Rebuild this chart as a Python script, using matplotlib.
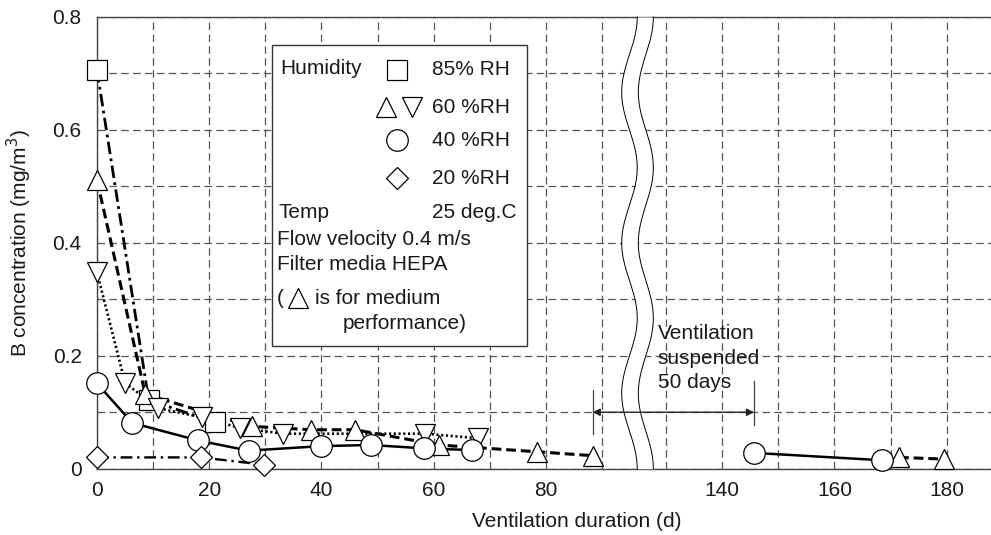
import numpy as np
import matplotlib
matplotlib.use("Agg")
import matplotlib.pyplot as plt
from matplotlib.patches import Rectangle

plt.rcParams['font.family'] = ['Liberation Sans', 'DejaVu Sans']
plt.rcParams['font.size'] = 15

# data (days, mg/m3)
# 85 %RH - square
rh85_x = [0, 9.2, 21.0]
rh85_y = [0.706, 0.122, 0.082]
# 60 %RH HEPA - down triangle
rh60v_x = [0, 5.0, 10.9, 18.7, 25.5, 33.2, 58.4, 67.9]
rh60v_y = [0.348, 0.152, 0.107, 0.091, 0.072, 0.062, 0.062, 0.054]
# 60 %RH medium performance - up triangle
rh60_x = [0, 8.6, 27.6, 38.1, 46.0, 60.9, 78.4, 88.4]
rh60_y = [0.511, 0.132, 0.075, 0.069, 0.069, 0.042, 0.030, 0.023]
rh60_x2 = [171.5, 179.6]
rh60_y2 = [0.020, 0.017]
# 40 %RH - circle
rh40_x = [0, 6.3, 18.0, 27.0, 40.0, 48.8, 58.3, 66.8]
rh40_y = [0.151, 0.081, 0.050, 0.032, 0.040, 0.042, 0.036, 0.033]
rh40_x2 = [145.7, 168.4]
rh40_y2 = [0.028, 0.015]
# 20 %RH - diamond
rh20_x = [0, 18.5, 29.8]
rh20_y = [0.020, 0.020, 0.007]

xticks = [0, 20, 40, 60, 80, 140, 160, 180]
xgrid = [10, 30, 50, 70, 90, 130, 150, 170]
yticks = [0, 0.2, 0.4, 0.6, 0.8]
ylabels = ["0", "0.2", "0.4", "0.6", "0.8"]
ygrid = [0.1, 0.3, 0.5, 0.7]

# suspended period marks
susp_start = 88.3
susp_end = 145.7

# broken x axis: 96..128 days squeezed into the wavy gap
def fwd(x):
    return np.interp(x, [-1000, 96.2, 127.7, 1000], [-1000, 96.2, 99.1, 971.4])

def inv(u):
    return np.interp(u, [-1000, 96.2, 99.1, 971.4], [-1000, 96.2, 127.7, 1000])


fig = plt.figure(figsize=(9.91, 5.35), dpi=100)
ax = fig.add_axes([97 / 991, 1 - 468.7 / 535, 894 / 991, 451.7 / 535])
ax.set_xscale('function', functions=(fwd, inv))

txt = '#1a1a1a'
mk = dict(mfc='white', mec='black', mew=0.9, clip_on=False, zorder=4)

ax.plot(rh85_x, rh85_y, color='black', lw=2.0, ls=(0, (4.5, 1.6, 1, 1.6)), zorder=3)
ax.plot(rh60_x, rh60_y, color='black', lw=2.2, ls=(0, (3.2, 1.6)), zorder=3)
ax.plot(rh60_x2, rh60_y2, color='black', lw=2.2, ls=(0, (3.2, 1.6)), zorder=3)
ax.plot(rh60v_x, rh60v_y, color='black', lw=1.9, ls=(0, (0.8, 1.0)), zorder=3)
ax.plot(rh40_x, rh40_y, color='black', lw=1.8, zorder=3)
ax.plot(rh40_x2, rh40_y2, color='black', lw=1.8, zorder=3)
ax.plot(rh20_x, rh20_y, color='black', lw=1.7, ls=(0, (5, 2, 1, 2)), zorder=3)

ax.plot(rh85_x, rh85_y, 's', ms=14.5, ls='none', **mk)
ax.plot(rh60_x, rh60_y, '^', ms=14, ls='none', **mk)
ax.plot(rh60_x2, rh60_y2, '^', ms=14, ls='none', **mk)
ax.plot(rh60v_x, rh60v_y, 'v', ms=14, ls='none', **mk)
ax.plot(rh40_x, rh40_y, 'o', ms=15.5, ls='none', **mk)
ax.plot(rh40_x2, rh40_y2, 'o', ms=15.5, ls='none', **mk)
ax.plot(rh20_x, rh20_y, 'D', ms=11, ls='none', **mk)

ax.set_xlim(0, 187.9)
ax.set_ylim(0, 0.8)
ax.set_xticks(xticks)
ax.set_xticks(xgrid, minor=True)
ax.set_yticks(yticks)
ax.set_yticklabels(ylabels)
ax.set_yticks(ygrid, minor=True)
ax.tick_params(which='both', length=0, colors=txt, labelsize=15)
ax.tick_params(axis='y', pad=11)
ax.tick_params(axis='x', pad=9)
ax.grid(True, which='both', color='#555555', lw=0.9, ls=(0, (6, 3.5)))
ax.set_axisbelow(True)
for s in ['left', 'bottom', 'top']:
    ax.spines[s].set_color('#444444')
    ax.spines[s].set_linewidth(1.0)
ax.spines['right'].set_visible(False)

ax.set_xlabel('Ventilation duration (d)', color=txt, fontsize=15)
ax.xaxis.set_label_coords(0.537, -0.095)
ax.set_ylabel('B concentration (mg/m$^3$)', color=txt, fontsize=15)
ax.yaxis.set_label_coords(-0.071, 0.5)

# wavy break band
t = np.linspace(0, 1, 300)
wl = 0.5956 + 0.0087 * np.cos(2 * np.pi * 3 * t)
wr = 0.6139 + 0.0084 * np.cos(2 * np.pi * 3 * t)
ax.fill_betweenx(t, wl, wr, transform=ax.transAxes, color='white', lw=0,
                 zorder=5, clip_on=False)
ax.plot(wl, t, color='black', lw=0.7, transform=ax.transAxes, zorder=6, clip_on=False)
ax.plot(wr, t, color='black', lw=0.7, transform=ax.transAxes, zorder=6, clip_on=False)

# suspended ventilation arrow
ax.annotate('', xy=(susp_start, 0.1), xytext=(susp_end, 0.1),
            arrowprops=dict(arrowstyle='<|-|>', color='#222222', lw=1.0,
                            mutation_scale=11, shrinkA=0, shrinkB=0), zorder=7)
ax.plot([susp_start, susp_start], [0.062, 0.139], color='#444444', lw=0.9, zorder=7)
ax.plot([susp_end, susp_end], [0.078, 0.156], color='#444444', lw=0.9, zorder=7)
ax.text(0.627, 0.245, 'Ventilation\nsuspended\n50 days', transform=ax.transAxes,
        ha='left', va='center', color=txt, fontsize=15, linespacing=1.35, zorder=8)

# legend box
ax.add_patch(Rectangle((0.196, 0.272), 0.2853, 0.666, transform=ax.transAxes,
                       fc='white', ec='#333333', lw=1.0, zorder=8))
lg = dict(transform=ax.transAxes, ha='left', va='center', color=txt, fontsize=15, zorder=9)
lm = dict(transform=ax.transAxes, mfc='white', mec='black', mew=0.9, clip_on=False,
          zorder=9, ls='none')
ax.text(0.2047, 0.887, 'Humidity', **lg)
ax.plot([0.3356], [0.8827], 's', ms=14.5, **lm)
ax.text(0.375, 0.8827, '85% RH', **lg)
ax.plot([0.3233], [0.8007], '^', ms=14, **lm)
ax.plot([0.352], [0.8007], 'v', ms=14, **lm)
ax.text(0.375, 0.8007, '60 %RH', **lg)
ax.plot([0.3356], [0.7276], 'o', ms=15.5, **lm)
ax.text(0.375, 0.7276, '40 %RH', **lg)
ax.plot([0.3356], [0.6434], 'D', ms=11, **lm)
ax.text(0.375, 0.6434, '20 %RH', **lg)
ax.text(0.2025, 0.5662, 'Temp', **lg)
ax.text(0.375, 0.5662, '25 deg.C', **lg)
ax.text(0.2015, 0.5064, 'Flow velocity 0.4 m/s', **lg)
ax.text(0.2015, 0.4511, 'Filter media HEPA', **lg)
ax.text(0.2015, 0.3779, '(', **lg)
ax.plot([0.2252], [0.3779], '^', ms=14, **lm)
ax.text(0.2442, 0.3779, 'is for medium', **lg)
ax.text(0.2752, 0.3222, 'performance)', **lg)

fig.savefig('out.png', dpi=100, facecolor='white')
